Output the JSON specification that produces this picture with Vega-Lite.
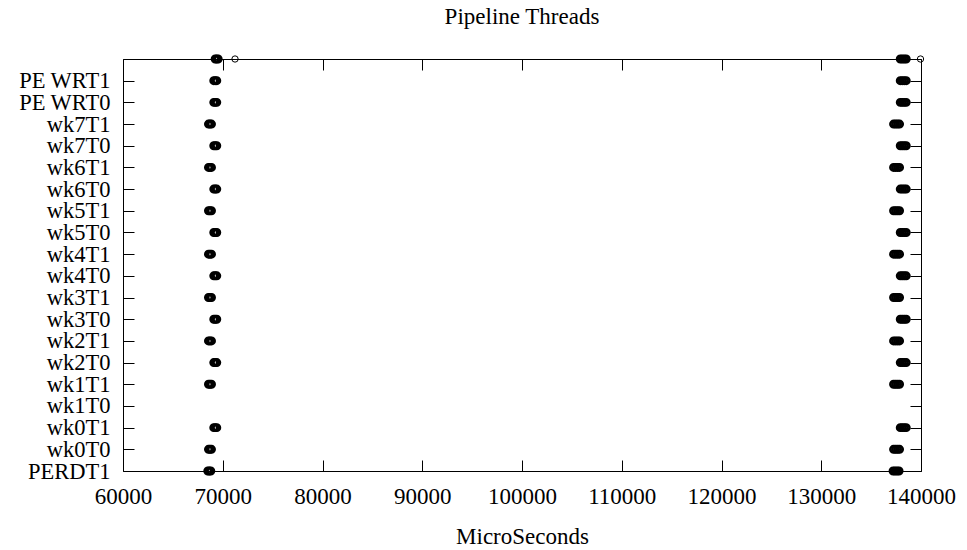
{
  "$schema": "https://vega.github.io/schema/vega-lite/v6.json",
  "width": 798,
  "height": 412,
  "autosize": {"type": "none"},
  "padding": {"left": 123, "top": 59, "right": 46, "bottom": 79},
  "background": "white",
  "config": {
    "font": "Liberation Serif",
    "view": {"stroke": "black", "strokeWidth": 1}
  },
  "title": {"text": "Pipeline Threads", "fontSize": 23, "fontWeight": "normal", "font": "Liberation Serif", "color": "black", "offset": 19},
  "datasets": {
    "blobs": [
      {"thread": "top", "t": [69240, 69390, 69540, 137920, 138120, 138320, 138520]},
      {"thread": "PE WRT1", "t": [69100, 69250, 69400, 137920, 138120, 138320, 138520]},
      {"thread": "PE WRT0", "t": [69100, 69250, 69400, 137920, 138120, 138320, 138520]},
      {"thread": "wk7T1", "t": [68570, 68720, 68870, 137250, 137450, 137650, 137850]},
      {"thread": "wk7T0", "t": [69100, 69250, 69400, 137920, 138120, 138320, 138520]},
      {"thread": "wk6T1", "t": [68570, 68720, 68870, 137250, 137450, 137650, 137850]},
      {"thread": "wk6T0", "t": [69100, 69250, 69400, 137920, 138120, 138320, 138520]},
      {"thread": "wk5T1", "t": [68570, 68720, 68870, 137250, 137450, 137650, 137850]},
      {"thread": "wk5T0", "t": [69100, 69250, 69400, 137920, 138120, 138320, 138520]},
      {"thread": "wk4T1", "t": [68570, 68720, 68870, 137250, 137450, 137650, 137850]},
      {"thread": "wk4T0", "t": [69100, 69250, 69400, 137920, 138120, 138320, 138520]},
      {"thread": "wk3T1", "t": [68570, 68720, 68870, 137250, 137450, 137650, 137850]},
      {"thread": "wk3T0", "t": [69100, 69250, 69400, 137920, 138120, 138320, 138520]},
      {"thread": "wk2T1", "t": [68570, 68720, 68870, 137250, 137450, 137650, 137850]},
      {"thread": "wk2T0", "t": [69100, 69250, 69400, 137920, 138120, 138320, 138520]},
      {"thread": "wk1T1", "t": [68570, 68720, 68870, 137250, 137450, 137650, 137850]},
      {"thread": "wk0T1", "t": [69100, 69250, 69400, 137920, 138120, 138320, 138520]},
      {"thread": "wk0T0", "t": [68570, 68720, 68870, 137250, 137450, 137650, 137850]},
      {"thread": "PERDT1", "t": [68500, 68650, 68800, 137200, 137400, 137600, 137800]}
    ],
    "extra": [
      {"thread": "top", "t": 71230},
      {"thread": "top", "t": 139950}
    ]
  },
  "layer": [
    {
      "data": {"name": "blobs"},
      "transform": [{"flatten": ["t"]}],
      "mark": {"type": "point", "shape": "circle", "filled": false, "stroke": "black", "strokeWidth": 2.5, "size": 42, "opacity": 1},
      "encoding": {
        "x": {
          "field": "t", "type": "quantitative",
          "scale": {"domain": [60000, 140000], "nice": false, "zero": false},
          "axis": {
            "orient": "bottom", "values": [60000, 70000, 80000, 90000, 100000, 110000, 120000, 130000, 140000],
            "format": "d", "domain": false, "grid": false, "tickSize": -11, "tickColor": "black", "tickWidth": 1,
            "labelFlush": false, "labelOverlap": false,
            "labelFontSize": 23, "labelColor": "black", "labelPadding": 25, "labelFont": "Liberation Serif",
            "title": "MicroSeconds", "titleFontSize": 23, "titleFontWeight": "normal", "titleColor": "black", "titleFont": "Liberation Serif", "titlePadding": 17
          }
        },
        "y": {
          "field": "thread", "type": "nominal",
          "scale": {"type": "point", "padding": 0, "domain": ["top", "PE WRT1", "PE WRT0", "wk7T1", "wk7T0", "wk6T1", "wk6T0", "wk5T1", "wk5T0", "wk4T1", "wk4T0", "wk3T1", "wk3T0", "wk2T1", "wk2T0", "wk1T1", "wk1T0", "wk0T1", "wk0T0", "PERDT1"]},
          "axis": {
            "orient": "left", "domain": false, "grid": false, "tickSize": -11, "tickColor": "black",
            "labelExpr": "datum.value == 'top' ? '' : datum.value",
            "labelOverlap": false,
            "labelFontSize": 22.5, "labelColor": "black", "labelPadding": 24, "labelFont": "Liberation Serif", "title": null
          }
        }
      }
    },
    {
      "data": {"name": "extra"},
      "mark": {"type": "point", "shape": "circle", "filled": false, "stroke": "black", "strokeWidth": 1, "size": 40, "opacity": 1},
      "encoding": {
        "x": {
          "field": "t", "type": "quantitative",
          "scale": {"domain": [60000, 140000], "nice": false, "zero": false},
          "axis": {"orient": "top", "values": [60000, 70000, 80000, 90000, 100000, 110000, 120000, 130000, 140000], "domain": false, "grid": false, "tickSize": -11, "tickColor": "black", "labels": false, "title": null}
        },
        "y": {
          "field": "thread", "type": "nominal",
          "scale": {"type": "point", "padding": 0, "domain": ["top", "PE WRT1", "PE WRT0", "wk7T1", "wk7T0", "wk6T1", "wk6T0", "wk5T1", "wk5T0", "wk4T1", "wk4T0", "wk3T1", "wk3T0", "wk2T1", "wk2T0", "wk1T1", "wk1T0", "wk0T1", "wk0T0", "PERDT1"]},
          "axis": {"orient": "right", "domain": false, "grid": false, "tickSize": -11, "tickColor": "black", "labels": false, "title": null}
        }
      }
    }
  ],
  "resolve": {"axis": {"x": "independent", "y": "independent"}}
}
